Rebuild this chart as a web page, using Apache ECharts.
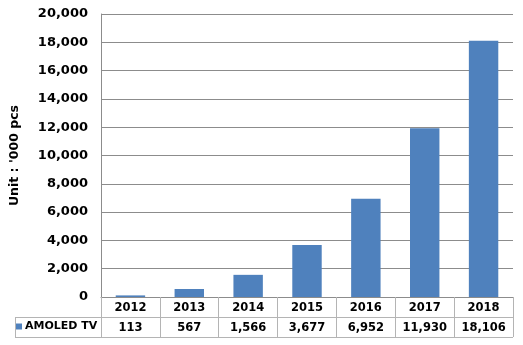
<!DOCTYPE html>
<html><head><meta charset="utf-8">
<script src="https://cdn.jsdelivr.net/npm/echarts@6/dist/echarts.min.js"></script>
<style>html,body{margin:0;padding:0;background:#fff}#c{width:523px;height:345px}</style>
</head><body><div id="c"></div>
<script>
const categories = ['2012','2013','2014','2015','2016','2017','2018'];
const seriesName = 'AMOLED TV';
const values = [113, 567, 1566, 3677, 6952, 11930, 18106];
const yAxisTitle = "Unit : '000 pcs";
const yMin = 0, yMax = 20000, yInterval = 2000;

const fmt = v => String(v).replace(/\B(?=(\d{3})+(?!\d))/g, ',');
const FONT = 'DejaVu Sans';
const chart = echarts.init(document.getElementById('c'), null, {renderer: 'canvas'});
const tableLine = '#b4b4b4';
chart.setOption({
  animation: false,
  backgroundColor: '#fff',
  grid: {left: 101, right: 10, top: 14, bottom: 48, containLabel: false},
  legend: {
    data: [seriesName], left: 16, top: 321, padding: 0,
    icon: 'rect', itemWidth: 6, itemHeight: 6, itemGap: 3,
    textStyle: {fontFamily: FONT, fontWeight: 'bold', fontSize: 11, color: '#000', padding: [0,0,0,-2]}
  },
  xAxis: [{
    type: 'category', data: categories, position: 'bottom',
    axisLine: {show: true, lineStyle: {color: '#8c8c8c', width: 1}},
    axisTick: {show: true, length: 40, lineStyle: {color: tableLine}},
    axisLabel: {margin: 5, fontFamily: FONT, fontWeight: 'bold', fontSize: 11.5, color: '#000'}
  }, {
    type: 'category', data: values.map(fmt), position: 'bottom', offset: 20,
    axisLine: {show: false}, axisTick: {show: false},
    axisLabel: {margin: 5, fontFamily: FONT, fontWeight: 'bold', fontSize: 11.5, color: '#000'}
  }],
  yAxis: {
    type: 'value', min: yMin, max: yMax, interval: yInterval,
    name: yAxisTitle, nameLocation: 'middle', nameGap: 80, nameRotate: 90,
    nameTextStyle: {fontFamily: FONT, fontWeight: 'bold', fontSize: 12.5, color: '#000'},
    axisLine: {show: true, lineStyle: {color: '#8c8c8c'}},
    axisTick: {show: false},
    axisLabel: {margin: 13, formatter: v => fmt(v), fontFamily: FONT, fontWeight: 'bold', fontSize: 13, color: '#000'},
    splitLine: {show: true, lineStyle: {color: '#8c8c8c', width: 1}}
  },
  graphic: [
    {type: 'line', shape: {x1: 15, y1: 317.5, x2: 513, y2: 317.5}, style: {stroke: tableLine, lineWidth: 1}},
    {type: 'line', shape: {x1: 15, y1: 337.5, x2: 513, y2: 337.5}, style: {stroke: tableLine, lineWidth: 1}},
    {type: 'line', shape: {x1: 15.5, y1: 317, x2: 15.5, y2: 338}, style: {stroke: tableLine, lineWidth: 1}}
  ],
  series: [{
    name: seriesName, type: 'bar', data: values, xAxisIndex: 0,
    barCategoryGap: '50%', itemStyle: {color: '#4f81bd'}
  }]
});
</script></body></html>
